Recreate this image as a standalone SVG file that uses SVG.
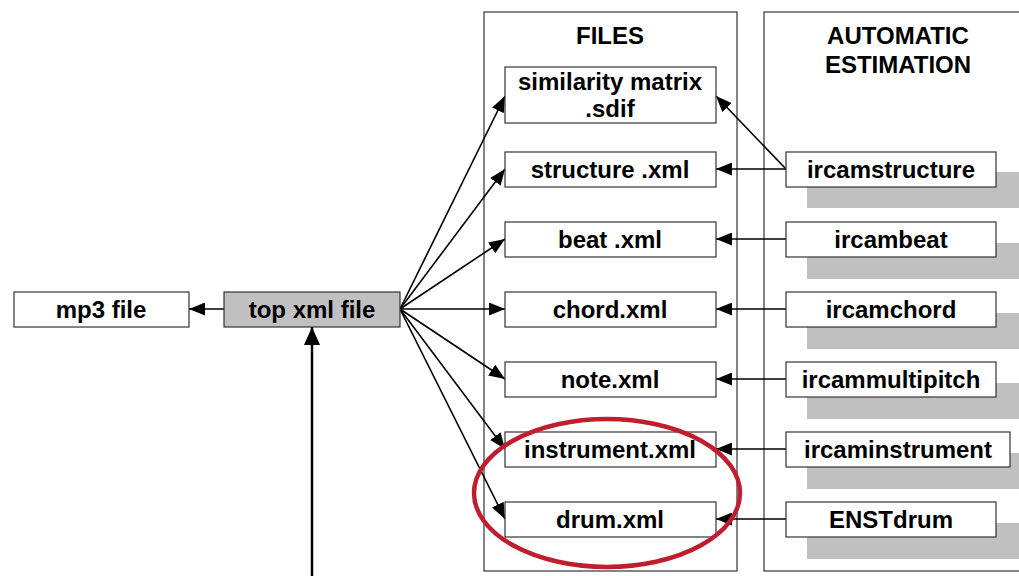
<svg xmlns="http://www.w3.org/2000/svg" width="1019" height="576" viewBox="0 0 1019 576">
<defs>
<marker id="ah" markerWidth="16" markerHeight="13" refX="16" refY="6.5" orient="auto" markerUnits="userSpaceOnUse">
<path d="M0,0 L16,6.5 L0,13 Z" fill="#000"/>
</marker>
<marker id="ahb" markerWidth="18" markerHeight="16" refX="18" refY="8" orient="auto" markerUnits="userSpaceOnUse">
<path d="M0,0 L18,8 L0,16 Z" fill="#000"/>
</marker>
<style>
.box{fill:#fff;stroke:#333;stroke-width:1.2}
.gray{fill:#c0c0c0;stroke:#333;stroke-width:1.2}
.shadow{fill:#c0c0c0;stroke:none}
.cont{fill:none;stroke:#333;stroke-width:1.2}
.t{font-family:"Liberation Sans",Arial,sans-serif;font-weight:bold;font-size:24px;fill:#000;text-anchor:middle}
.c{fill:none;stroke:#000;stroke-width:1.6}
</style>
</defs>
<rect width="1019" height="576" fill="#fff"/>
<g id="containers">
<rect class="cont" x="484" y="12" width="253" height="559"/>
<rect class="cont" x="764" y="12" width="270" height="559"/>
<text class="t" x="610" y="44">FILES</text>
<text class="t" x="898" y="44">AUTOMATIC</text>
<text class="t" x="898" y="73">ESTIMATION</text>
</g>
<g id="shadows">
<rect class="shadow" x="807" y="172" width="220" height="36"/>
<rect class="shadow" x="807" y="243" width="220" height="36"/>
<rect class="shadow" x="807" y="313" width="220" height="36"/>
<rect class="shadow" x="807" y="383" width="220" height="36"/>
<rect class="shadow" x="807" y="453" width="220" height="36"/>
<rect class="shadow" x="807" y="523" width="220" height="36"/>
</g>
<g id="connectors">
<line class="c" x1="224" y1="309" x2="189" y2="309" marker-end="url(#ah)"/>
<line x1="312" y1="576" x2="312" y2="327" stroke="#000" stroke-width="2.5" marker-end="url(#ahb)"/>
<line class="c" x1="400" y1="309" x2="505" y2="96" marker-end="url(#ah)"/>
<line class="c" x1="400" y1="309" x2="505" y2="169" marker-end="url(#ah)"/>
<line class="c" x1="400" y1="309" x2="505" y2="239" marker-end="url(#ah)"/>
<line class="c" x1="400" y1="309" x2="505" y2="309" marker-end="url(#ah)"/>
<line class="c" x1="400" y1="309" x2="505" y2="379" marker-end="url(#ah)"/>
<line class="c" x1="400" y1="309" x2="505" y2="449" marker-end="url(#ah)"/>
<line class="c" x1="400" y1="309" x2="505" y2="519" marker-end="url(#ah)"/>
<line class="c" x1="786" y1="169" x2="716" y2="96" marker-end="url(#ah)"/>
<line class="c" x1="786" y1="169" x2="716" y2="169" marker-end="url(#ah)"/>
<line class="c" x1="786" y1="239" x2="716" y2="239" marker-end="url(#ah)"/>
<line class="c" x1="786" y1="309" x2="716" y2="309" marker-end="url(#ah)"/>
<line class="c" x1="786" y1="379" x2="716" y2="379" marker-end="url(#ah)"/>
<line class="c" x1="786" y1="449" x2="716" y2="449" marker-end="url(#ah)"/>
<line class="c" x1="786" y1="519" x2="716" y2="519" marker-end="url(#ah)"/>
</g>
<g id="mp3"><rect class="box" x="14" y="292" width="175" height="35"/><text class="t" x="101" y="318">mp3 file</text></g>
<g id="topxml"><rect class="gray" x="224" y="292" width="176" height="35"/><text class="t" x="312" y="318">top xml file</text></g>
<g id="simmatrix"><rect class="box" x="505" y="67" width="211" height="56"/><text class="t" x="610" y="90">similarity matrix</text><text class="t" x="610" y="117">.sdif</text></g>
<g id="structure"><rect class="box" x="505" y="152" width="211" height="35"/><text class="t" x="610" y="178">structure .xml</text></g>
<g id="beat"><rect class="box" x="505" y="222" width="211" height="35"/><text class="t" x="610" y="248">beat .xml</text></g>
<g id="chord"><rect class="box" x="505" y="292" width="211" height="35"/><text class="t" x="610" y="318">chord.xml</text></g>
<g id="note"><rect class="box" x="505" y="362" width="211" height="35"/><text class="t" x="610" y="388">note.xml</text></g>
<g id="instrument"><rect class="box" x="505" y="432" width="211" height="35"/><text class="t" x="610" y="458">instrument.xml</text></g>
<g id="drum"><rect class="box" x="505" y="502" width="211" height="35"/><text class="t" x="610" y="528">drum.xml</text></g>
<g id="ircamstructure"><rect class="box" x="786" y="152" width="210" height="35"/><text class="t" x="891" y="178">ircamstructure</text></g>
<g id="ircambeat"><rect class="box" x="786" y="222" width="210" height="35"/><text class="t" x="891" y="248">ircambeat</text></g>
<g id="ircamchord"><rect class="box" x="786" y="292" width="210" height="35"/><text class="t" x="891" y="318">ircamchord</text></g>
<g id="ircammultipitch"><rect class="box" x="786" y="362" width="210" height="35"/><text class="t" x="891" y="388">ircammultipitch</text></g>
<g id="ircaminstrument"><rect class="box" x="786" y="432" width="224" height="35"/><text class="t" x="898" y="458">ircaminstrument</text></g>
<g id="enstdrum"><rect class="box" x="786" y="502" width="210" height="35"/><text class="t" x="891" y="528">ENSTdrum</text></g>
<g id="highlight"><ellipse cx="607" cy="493" rx="133" ry="74" fill="none" stroke="#be1e2d" stroke-width="4.5"/></g>
</svg>
